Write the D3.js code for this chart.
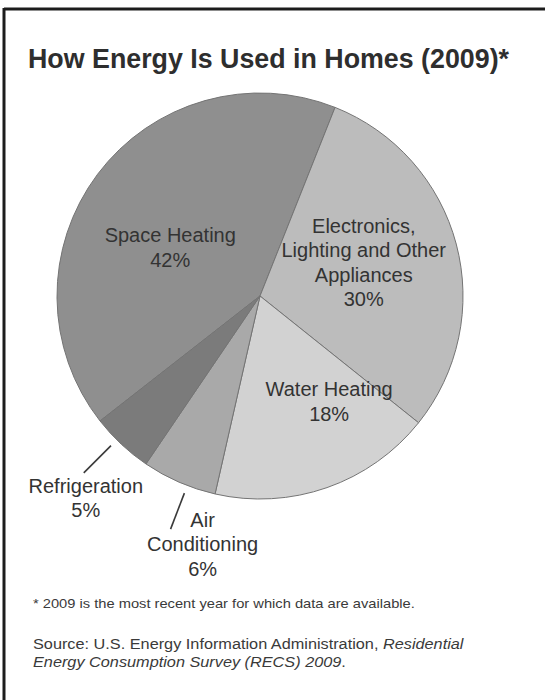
<!DOCTYPE html>
<html>
<head>
<meta charset="utf-8">
<script src="https://cdn.jsdelivr.net/npm/d3@7"></script>
<style>
  html, body { margin: 0; padding: 0; background: #fff; }
  svg { display: block; font-family: "Liberation Sans", Arial, sans-serif; }
</style>
</head>
<body>
<svg id="chart" width="545" height="700"></svg>
<script>
// data
const categories = ["Space Heating", "Electronics, Lighting and Other Appliances", "Water Heating", "Air Conditioning", "Refrigeration"];
const shares = [42, 30, 18, 6, 5];
const labelLines = [
  ["Space Heating"],
  ["Electronics,", "Lighting and Other", "Appliances"],
  ["Water Heating"],
  ["Air", "Conditioning"],
  ["Refrigeration"]
];
const fills = ["#8f8f8f", "#bcbcbc", "#d2d2d2", "#a9a9a9", "#7b7b7b"];

const title = "How Energy Is Used in Homes (2009)*";
const footnote = "* 2009 is the most recent year for which data are available.";

const svg = d3.select("#chart");
const cx = 260, cy = 296, R = 203;

// frame (only the top and left edges show in the reference)
svg.append("line").attr("x1", 4).attr("x2", 545).attr("y1", 9).attr("y2", 9)
  .attr("stroke", "#1c1c1c").attr("stroke-width", 3);
svg.append("line").attr("x1", 4).attr("x2", 4).attr("y1", 8).attr("y2", 700)
  .attr("stroke", "#1c1c1c").attr("stroke-width", 3);

svg.append("text")
  .attr("x", 28).attr("y", 68)
  .attr("font-size", 26.8).attr("font-weight", "bold").attr("fill", "#2e2e2e")
  .text(title);

const data = categories.map((c, i) => ({ name: c, value: shares[i], lines: labelLines[i], fill: fills[i] }));

const pie = d3.pie().value(d => d.value).sort(null)
  .startAngle(-128 * Math.PI / 180)
  .endAngle(232 * Math.PI / 180);
const arcs = pie(data);

const arc = d3.arc().innerRadius(0).outerRadius(R);
const g = svg.append("g").attr("transform", `translate(${cx},${cy})`);

g.selectAll("path.slice")
  .data(arcs)
  .join("path")
  .attr("class", "slice")
  .attr("d", arc)
  .attr("fill", d => d.data.fill)
  .attr("stroke", "#747474")
  .attr("stroke-width", 1);

// inside labels: radius + angle nudge (degrees); outside: leader angle nudge, then offset
const inside = { 0: { r: 102, da: -8.5 }, 1: { r: 109, da: -3 }, 2: { r: 126, da: -14 } };
const outside = { 3: { da: -2.5, dx: 32, dy: 15 }, 4: { da: 1.8, dx: 2, dy: 25 } };
const lineH = 24.5;

function polar(r, a) { return [r * Math.sin(a), -r * Math.cos(a)]; }

arcs.forEach((d, i) => {
  const mid = (d.startAngle + d.endAngle) / 2;
  let px, py;
  if (inside[i]) {
    [px, py] = polar(inside[i].r, mid + inside[i].da * Math.PI / 180);
  } else {
    const a = mid + outside[i].da * Math.PI / 180;
    const p0 = polar(R * 1.04, a);
    const p1 = polar(R * 1.23, a);
    g.append("line")
      .attr("x1", p0[0]).attr("y1", p0[1])
      .attr("x2", p1[0]).attr("y2", p1[1])
      .attr("stroke", "#3a3a3a").attr("stroke-width", 1.6);
    px = p1[0] + outside[i].dx;
    py = p1[1] + outside[i].dy;
  }
  const lines = d.data.lines.concat([d3.format(".0f")(d.data.value) + "%"]);
  const t = g.append("text")
    .attr("text-anchor", "middle")
    .attr("font-size", 20)
    .attr("fill", "#333");
  const y0 = py - (lines.length - 1) * lineH / 2 + 7;
  lines.forEach((s, k) => {
    t.append("tspan").attr("x", px).attr("y", y0 + k * lineH).text(s);
  });
});

// the scan is a little stretched sideways: widen the small print to match
svg.append("text")
  .attr("transform", "translate(33,608) scale(1.13,1)")
  .attr("font-size", 13).attr("fill", "#3a3a3a")
  .text(footnote);

const src = svg.append("text")
  .attr("transform", "translate(33,0) scale(1.1,1)")
  .attr("font-size", 14.8).attr("fill", "#3a3a3a");
const l1 = src.append("tspan").attr("x", 0).attr("y", 649);
l1.append("tspan").text("Source: U.S. Energy Information Administration, ");
l1.append("tspan").attr("font-style", "italic").text("Residential");
src.append("tspan").attr("x", 0).attr("y", 667)
  .attr("font-style", "italic").text("Energy Consumption Survey (RECS) 2009");
src.append("tspan").text(".");
</script>
</body>
</html>
